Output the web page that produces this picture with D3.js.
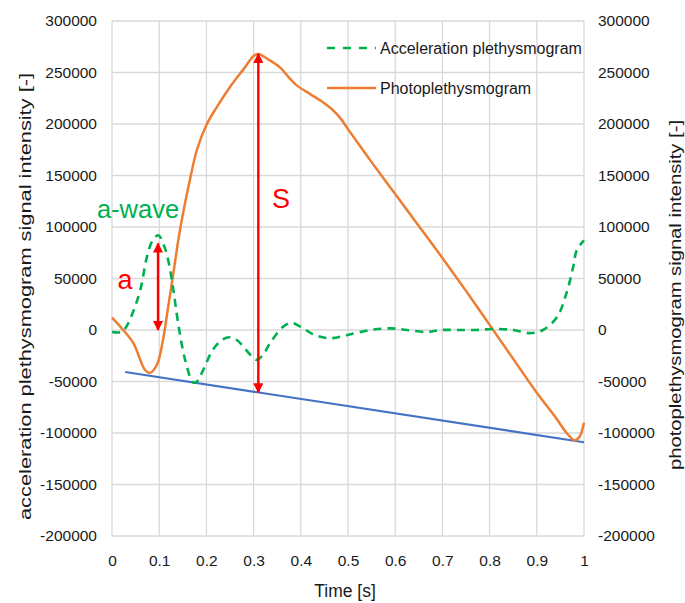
<!DOCTYPE html>
<html>
<head>
<meta charset="utf-8">
<script src="https://cdn.jsdelivr.net/npm/d3@7"></script>
<style>
body { margin: 0; background: #fff; }
text { font-family: "Liberation Sans", Arial, sans-serif; }
</style>
</head>
<body>
<svg id="chart" width="685" height="603"></svg>
<script>
// ---- data ----
const ppgT = [0, 0.02, 0.045, 0.07, 0.08, 0.095, 0.108, 0.119, 0.13, 0.144, 0.165, 0.18, 0.2, 0.22, 0.25, 0.28, 0.3, 0.31, 0.33, 0.356, 0.375, 0.39, 0.42, 0.444, 0.469, 0.485, 0.5, 0.55, 0.6, 0.65, 0.7, 0.75, 0.8, 0.85, 0.9, 0.94, 0.965, 0.98, 0.99, 1];
const ppgV = [12000, 2000, -12600, -38800, -41700, -34000, -9700, 22300, 55000, 97000, 145600, 175000, 199000, 215000, 236000, 254000, 266000, 268000, 263000, 255000, 245000, 238000, 229000, 222000, 213000, 205000, 195000, 163000, 132000, 101000, 70000, 38000, 5000, -28000, -61000, -85000, -101000, -107000, -104000, -90000];

const apgT = [0, 0.02, 0.03, 0.045, 0.06, 0.074, 0.085, 0.098, 0.11, 0.119, 0.13, 0.14, 0.155, 0.172, 0.18, 0.193, 0.214, 0.235, 0.25, 0.265, 0.278, 0.295, 0.307, 0.32, 0.335, 0.362, 0.38, 0.4, 0.43, 0.462, 0.497, 0.547, 0.59, 0.625, 0.667, 0.695, 0.73, 0.77, 0.81, 0.85, 0.885, 0.913, 0.943, 0.963, 0.977, 0.985, 1];
const apgV = [-2000, -2000, 3000, 18000, 39000, 71000, 86000, 92000, 82000, 68000, 39000, 7000, -29000, -51000, -50000, -39000, -19000, -9000, -7000, -10000, -16000, -25000, -29000, -24000, -12600, 3000, 7000, 3000, -5000, -8000, -5000, 0, 1600, 0, -2000, 0, 0, 0, 1000, 0, -3000, 0, 12600, 36000, 61000, 78000, 87000];

const baseT = [0.028, 1];
const baseV = [-40800, -109000];

const xTicks = [0, 0.1, 0.2, 0.3, 0.4, 0.5, 0.6, 0.7, 0.8, 0.9, 1];
const yTicks = [-200000, -150000, -100000, -50000, 0, 50000, 100000, 150000, 200000, 250000, 300000];

const seriesNames = ["Acceleration plethysmogram", "Photoplethysmogram"];
const arrowT = [0.0975, 0.31];
const arrowFrom = [84000, 268000];
const arrowTo = [0, -60500];
const annoLabels = ["a", "S", "a-wave"];

// ---- layout ----
const svg = d3.select("#chart");
const L = 112, R = 584, T = 21, B = 536;
const x = d3.scaleLinear().domain([0, 1]).range([L, R]);
const yL = d3.scaleLinear().domain([-200000, 300000]).range([B, T]);
const yR = d3.scaleLinear().domain([-200000, 300000]).range([B, T]);

const COL = { ppg: "#ED7D31", apg: "#00B050", base: "#4472C4", red: "#FF0000", grid: "#D9D9D9", text: "#1a1a1a" };

// grid
svg.append("g").selectAll("line").data(xTicks).join("line")
  .attr("x1", d => x(d)).attr("x2", d => x(d)).attr("y1", T).attr("y2", B)
  .attr("stroke", COL.grid).attr("stroke-width", 1.3);
svg.append("g").selectAll("line").data(yTicks).join("line")
  .attr("x1", L).attr("x2", R).attr("y1", d => yL(d)).attr("y2", d => yL(d))
  .attr("stroke", COL.grid).attr("stroke-width", 1.3);

// axes (labels only)
const fmt = d => String(d);
const axL = d3.axisLeft(yL).tickValues(yTicks).tickFormat(fmt).tickSize(0).tickPadding(15);
const axR = d3.axisRight(yR).tickValues(yTicks).tickFormat(fmt).tickSize(0).tickPadding(14);
const axB = d3.axisBottom(x).tickValues(xTicks).tickFormat(fmt).tickSize(0).tickPadding(19);
function style(g) {
  g.select(".domain").remove();
  g.selectAll("text").attr("font-size", 15.5).attr("fill", COL.text)
   .attr("font-family", "Liberation Sans, Arial, sans-serif");
}
svg.append("g").attr("transform", `translate(${L},0)`).call(axL).call(style);
svg.append("g").attr("transform", `translate(${R},0)`).call(axR).call(style);
svg.append("g").attr("transform", `translate(0,${B})`).call(axB).call(style);

// axis titles
svg.append("text").attr("transform", `translate(31,296.5) rotate(-90)`)
  .attr("text-anchor", "middle").attr("font-size", 16.5).attr("fill", COL.text)
  .attr("textLength", 447).attr("lengthAdjust", "spacingAndGlyphs")
  .text("acceleration plethysmogram signal intensity [-]");
svg.append("text").attr("transform", `translate(681,295) rotate(-90)`)
  .attr("text-anchor", "middle").attr("font-size", 16).attr("fill", COL.text)
  .attr("textLength", 350).attr("lengthAdjust", "spacingAndGlyphs")
  .text("photoplethysmogram signal intensity [-]");
svg.append("text").attr("x", 345).attr("y", 597)
  .attr("text-anchor", "middle").attr("font-size", 17.5).attr("fill", COL.text)
  .text("Time [s]");

// lines
const line = (yS) => d3.line().x(d => x(d[0])).y(d => yS(d[1])).curve(d3.curveCatmullRom.alpha(0.5));
const baseLine = d3.line().x(d => x(d[0])).y(d => yL(d[1]));

svg.append("path").datum(d3.zip(baseT, baseV)).attr("d", baseLine)
  .attr("fill", "none").attr("stroke", COL.base).attr("stroke-width", 2.2);
svg.append("path").datum(d3.zip(ppgT, ppgV)).attr("d", line(yR))
  .attr("fill", "none").attr("stroke", COL.ppg).attr("stroke-width", 2.5);
svg.append("path").datum(d3.zip(apgT, apgV)).attr("d", line(yL))
  .attr("fill", "none").attr("stroke", COL.apg).attr("stroke-width", 2.6)
  .attr("stroke-dasharray", "8,6");

// arrows
const defs = svg.append("defs");
defs.append("marker").attr("id", "ah").attr("viewBox", "0 0 10 10")
  .attr("refX", 9).attr("refY", 5).attr("markerWidth", 4.2).attr("markerHeight", 4.2)
  .attr("markerUnits", "strokeWidth").attr("orient", "auto-start-reverse")
  .append("path").attr("d", "M0,0 L10,5 L0,10 Z").attr("fill", COL.red);
svg.append("g").selectAll("line").data(arrowT).join("line")
  .attr("x1", d => x(d)).attr("x2", d => x(d))
  .attr("y1", (d, i) => yL(arrowFrom[i])).attr("y2", (d, i) => yL(arrowTo[i]))
  .attr("stroke", COL.red).attr("stroke-width", 2.4)
  .attr("marker-start", "url(#ah)").attr("marker-end", "url(#ah)");

// annotation labels
svg.append("text").attr("x", 125).attr("y", 289).attr("font-size", 27)
  .attr("fill", COL.red).attr("text-anchor", "middle").text(annoLabels[0]);
svg.append("text").attr("x", 281).attr("y", 208).attr("font-size", 27)
  .attr("fill", COL.red).attr("text-anchor", "middle").text(annoLabels[1]);
svg.append("text").attr("x", 138).attr("y", 218).attr("font-size", 25.5)
  .attr("fill", COL.apg).attr("text-anchor", "middle").text(annoLabels[2]);

// legend
const lg = svg.append("g");
const lgY = [48, 88];
lg.append("line").attr("x1", 327).attr("x2", 376).attr("y1", lgY[0]).attr("y2", lgY[0])
  .attr("stroke", COL.apg).attr("stroke-width", 2.6).attr("stroke-dasharray", "8,8");
lg.append("line").attr("x1", 327).attr("x2", 376).attr("y1", lgY[1]).attr("y2", lgY[1])
  .attr("stroke", COL.ppg).attr("stroke-width", 2.5);
lg.selectAll("text").data(seriesNames).join("text")
  .attr("x", 380).attr("y", (d, i) => lgY[i] + 6).attr("font-size", 16).attr("fill", COL.text)
  .text(d => d);
</script>
</body>
</html>
